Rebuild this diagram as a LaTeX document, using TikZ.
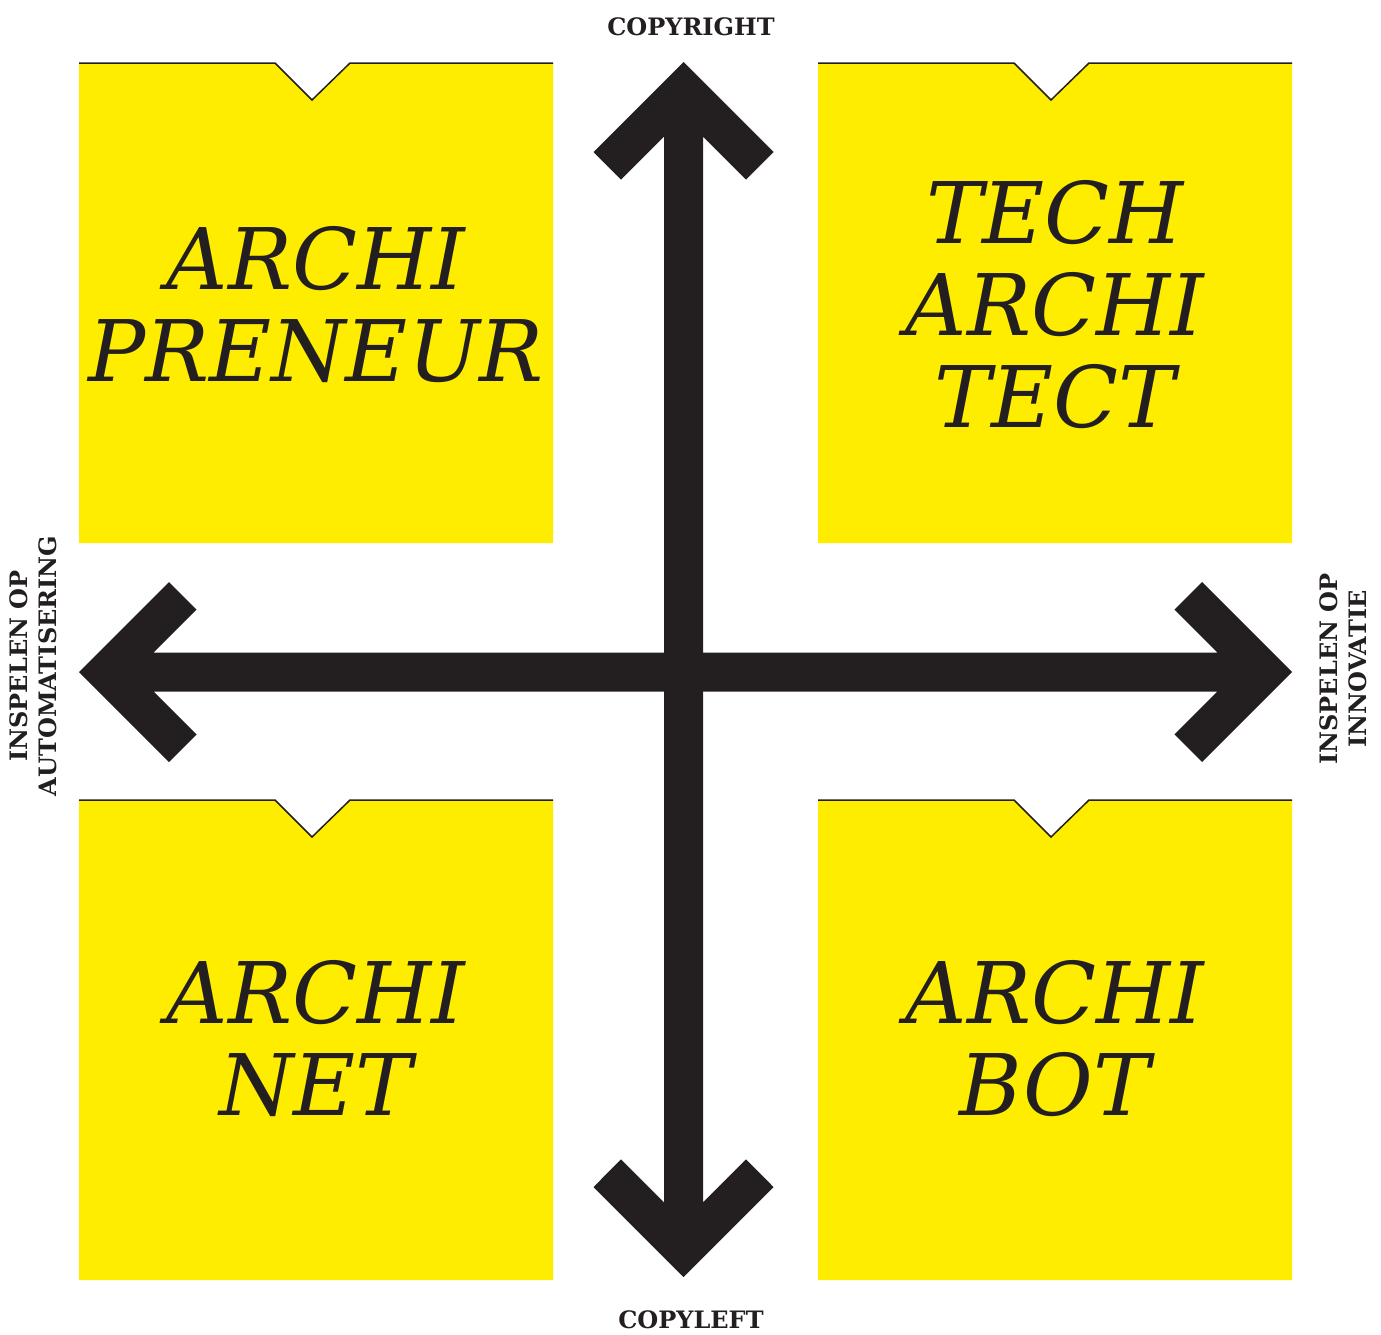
\documentclass[tikz,border=0pt]{standalone}
\usepackage{fontspec}
\setmainfont{DejaVu Serif}
\definecolor{ink}{HTML}{231F20}
\definecolor{boxyellow}{HTML}{FFED00}
\tikzset{
  quad/.pic={
    \fill[boxyellow] (0,0) -- (196,0) -- (233,37) -- (271,0) -- (474,0) -- (474,480) -- (0,480) -- cycle;
    \draw[ink, line width=1.5pt, line join=miter] (0,0) -- (196,0) -- (233,37) -- (271,0) -- (474,0);
  },
  big/.style={font=\itshape\fontsize{85}{92}\selectfont, align=center, inner sep=0pt, text=ink},
  axislabel/.style={font=\bfseries\fontsize{24}{29}\selectfont, align=center, inner sep=0pt, text=ink},
}
\begin{document}
\begin{tikzpicture}[x=1pt, y=-1pt]
\useasboundingbox (0,0) rectangle (1381,1334);
% quadrant boxes
\pic at (79,63) {quad};
\pic at (818,63) {quad};
\pic at (79,800) {quad};
\pic at (818,800) {quad};
% arrows
\fill[ink] (683.5,62) -- (773.5,152) -- (746,179.6) -- (703,136.6) -- (703,1202.4) -- (746,1159.4) -- (773.5,1187) -- (683.5,1277) -- (593.5,1187) -- (621,1159.4) -- (664,1202.4) -- (664,136.6) -- (621,179.6) -- (593.5,152) -- cycle;
\fill[ink] (79,672) -- (169,582) -- (196.6,609.6) -- (153.6,652.5) -- (1217.4,652.5) -- (1174.4,609.6) -- (1202,582) -- (1292,672) -- (1202,762) -- (1174.4,734.4) -- (1217.4,691.5) -- (153.6,691.5) -- (196.6,734.4) -- (169,762) -- cycle;
% quadrant texts
\node[big] (tl) at (316,305) {ARCHI\\PRENEUR};
\node[big] (tr) at (1055,305) {TECH\\ARCHI\\TECT};
\node[big] (bl) at (316,1039) {ARCHI\\NET};
\node[big] (br) at (1055,1039) {ARCHI\\BOT};
% axis labels
\node[axislabel] (top) at (691,26.5) {COPYRIGHT};
\node[axislabel] (bottom) at (691,1320) {COPYLEFT};
\node[axislabel, rotate=90] (left) at (33.5,666) {INSPELEN OP\\AUTOMATISERING};
\node[axislabel, rotate=90] (right) at (1343.5,669) {INSPELEN OP\\INNOVATIE};
\end{tikzpicture}
\end{document}
